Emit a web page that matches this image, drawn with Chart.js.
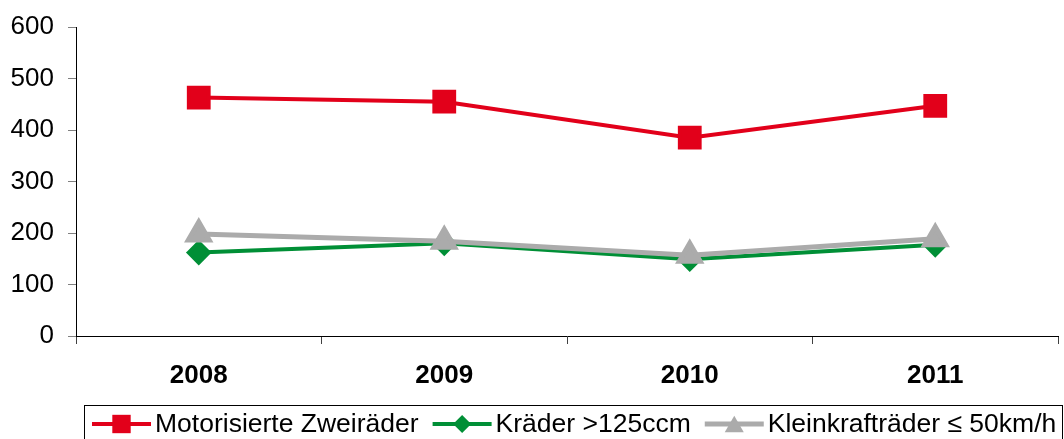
<!DOCTYPE html>
<html>
<head>
<meta charset="utf-8">
<script src="https://cdn.jsdelivr.net/npm/chart.js@4/dist/chart.umd.min.js"></script>
<style>
  html, body { margin: 0; padding: 0; background: #fff; }
  #wrap { width: 1064px; height: 439px; position: relative; }
</style>
</head>
<body>
<div id="wrap"><canvas id="c" width="1064" height="439"></canvas></div>
<script>
// ---- Data ----
const categories = ['2008', '2009', '2010', '2011'];
const seriesLabels = ['Motorisierte Zweiräder', 'Kräder >125ccm', 'Kleinkrafträder ≤ 50km/h'];
const motorisierteZweiraeder = [463, 455, 385, 447];
const kraeder125 = [162, 180, 149, 177];
const kleinkraftraeder50 = [198, 184, 157, 189];
const yTicks = [0, 100, 200, 300, 400, 500, 600];

const FONT = "'Liberation Sans', Arial, Helvetica, sans-serif";
Chart.defaults.font.family = FONT;
Chart.defaults.color = '#000';

const RED = '#E2001A', GREEN = '#008F36', GRAY = '#ABABAB';

function drawMarker(ctx, style, x, y, r, color) {
  ctx.save();
  ctx.fillStyle = color;
  ctx.beginPath();
  if (style === 'rect') {
    const s = r * Math.SQRT1_2;
    ctx.rect(x - s, y - s, 2 * s, 2 * s);
  } else if (style === 'rectRot') {
    ctx.moveTo(x, y - r); ctx.lineTo(x + r, y); ctx.lineTo(x, y + r); ctx.lineTo(x - r, y);
    ctx.closePath();
  } else if (style === 'triangle') {
    const h = r * 1.5, w = r * Math.sqrt(3);
    ctx.moveTo(x, y - h / 2); ctx.lineTo(x + w / 2, y + h / 2); ctx.lineTo(x - w / 2, y + h / 2);
    ctx.closePath();
  }
  ctx.fill();
  ctx.restore();
}

const boxLegend = {
  id: 'boxLegend',
  afterDraw(chart) {
    const ctx = chart.ctx;
    const top = 405, left = 84, right = 1062;
    ctx.save();
    ctx.strokeStyle = '#000';
    ctx.lineWidth = 1;
    ctx.strokeRect(left + 0.5, top + 0.5, right - left, 60);
    ctx.font = '26.5px ' + FONT;
    ctx.textBaseline = 'alphabetic';
    ctx.fillStyle = '#000';
    const lineY = 424, baseY = 432;
    let x = 92;
    chart.data.datasets.forEach(ds => {
      ctx.strokeStyle = ds.borderColor;
      ctx.lineWidth = ds.borderWidth;
      ctx.beginPath();
      ctx.moveTo(x, lineY); ctx.lineTo(x + 59, lineY);
      ctx.stroke();
      drawMarker(ctx, ds.pointStyle, x + 29.5, lineY, ds.legendRadius, ds.pointBackgroundColor);
      const tx = x + 63;
      ctx.fillStyle = '#000';
      ctx.fillText(ds.label, tx, baseY);
      x = tx + ctx.measureText(ds.label).width + 14;
    });
    ctx.restore();
  }
};

new Chart(document.getElementById('c'), {
  type: 'line',
  data: {
    labels: categories,
    datasets: [
      { label: seriesLabels[0], data: motorisierteZweiraeder, borderColor: RED, backgroundColor: RED,
        pointBackgroundColor: RED, pointBorderColor: RED, borderWidth: 4, pointStyle: 'rect',
        pointRadius: 14, pointHoverRadius: 14, legendRadius: 13, order: 1 },
      { label: seriesLabels[1], data: kraeder125, borderColor: GREEN, backgroundColor: GREEN,
        pointBackgroundColor: GREEN, pointBorderColor: GREEN, borderWidth: 4, pointStyle: 'rectRot',
        pointRadius: 10, pointHoverRadius: 10, legendRadius: 9, order: 3 },
      { label: seriesLabels[2], data: kleinkraftraeder50, borderColor: GRAY, backgroundColor: GRAY,
        pointBackgroundColor: GRAY, pointBorderColor: GRAY, borderWidth: 5, pointStyle: 'triangle',
        pointRadius: 12, pointHoverRadius: 12, legendRadius: 11, order: 2 }
    ]
  },
  options: {
    responsive: false,
    animation: false,
    devicePixelRatio: 1,
    layout: { autoPadding: false, padding: { top: 27, right: 6, bottom: 43, left: 0 } },
    plugins: { legend: { display: false }, tooltip: { enabled: false } },
    elements: { line: { tension: 0 }, point: { borderWidth: 0 } },
    scales: {
      x: {
        offset: true,
        grid: { offset: true, drawOnChartArea: false, drawTicks: true, tickLength: 8, color: '#404040', lineWidth: 1 },
        border: { display: true, color: '#000', width: 1 },
        ticks: { font: { size: 26, weight: 'bold', family: FONT }, color: '#000', padding: 16, maxRotation: 0 },
        afterFit(scale) { scale.height = 60; scale.paddingLeft = 0; scale.paddingRight = 0; }
      },
      y: {
        min: 0, max: 600,
        afterBuildTicks(scale) { scale.ticks = yTicks.map(v => ({ value: v })); },
        grid: { drawOnChartArea: false, drawTicks: true, tickLength: 8, color: '#808080', lineWidth: 1 },
        border: { display: true, color: '#000', width: 1 },
        ticks: { font: { size: 26, family: FONT }, color: '#000', padding: 14 },
        afterFit(scale) { scale.width = 76; scale.paddingTop = 0; scale.paddingBottom = 0; scale.paddingLeft = 0; scale.paddingRight = 0; }
      }
    }
  },
  plugins: [boxLegend]
});
</script>
</body>
</html>
